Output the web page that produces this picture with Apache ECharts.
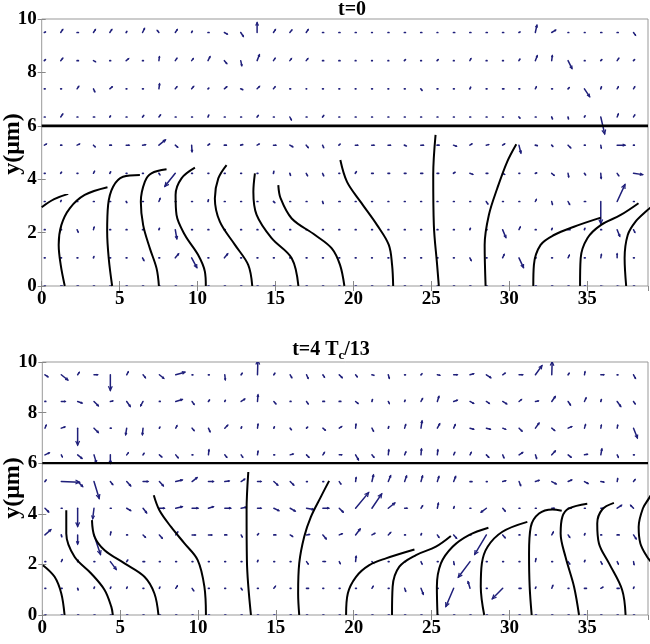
<!DOCTYPE html>
<html><head><meta charset="utf-8">
<script src="https://cdn.jsdelivr.net/npm/echarts@6/dist/echarts.min.js"></script>
<style>html,body{margin:0;padding:0;background:#fff}#c{width:650px;height:644px}</style>
</head><body><div id="c"></div>
<script>
// ---------- axis / tick data ----------
const xMax = 38.9;
const yMax = 10;
const titleTop = 't=0';
const titleBottom = ['t=4 T', 'c', '/13'];
const yName = 'y(\u03bcm)';

// quiver sampling grid (µm)
const quiverCols = [0.17,1.22,2.27,3.32,4.37,5.42,6.47,7.52,8.57,9.62,10.67,11.72,12.77,13.82,14.87,15.92,16.97,18.02,19.07,20.12,21.17,22.22,23.27,24.32,25.37,26.42,27.47,28.52,29.57,30.62,31.67,32.72,33.77,34.82,35.87,36.92,37.97];
const quiverRows = [0,1.055,2.11,3.165,4.22,5.275,6.33,7.385,8.44,9.495];

// ---------- top panel (t=0) ----------
const topContours = [
 [[0,2.95],[0.8,3.25],[1.7,3.45]],
 [[1.48,0],[1.22,0.79],[1.09,1.54],[1.26,2.28],[1.8,2.91],[2.76,3.41],[4.22,3.7]],
 [[4.52,0],[4.3,1.04],[4.2,2.03],[4.26,3.03],[4.58,3.72],[5.22,4.09],[6.3,4.16]],
 [[7.52,0],[7.37,0.66],[6.94,1.41],[6.51,2.28],[6.36,3.16],[6.62,3.91],[7.04,4.22],[8.01,4.37]],
 [[10.53,0],[10.47,0.54],[10.04,1.16],[9.19,1.91],[8.65,2.66],[8.59,3.41],[8.97,4.03],[9.83,4.43]],
 [[13.51,0],[13.25,0.79],[12.4,1.54],[11.43,2.41],[11.11,3.28],[11.33,4.03],[11.86,4.53]],
 [[16.47,0],[16.04,1.04],[14.75,1.79],[13.79,2.66],[13.58,3.53],[13.68,4.22]],
 [[19.42,0],[19.14,0.79],[18.61,1.41],[17.54,1.91],[16.04,2.53],[15.33,3.28],[15.18,3.78]],
 [[22.55,0],[22.48,0.79],[22.27,1.54],[21.52,2.28],[20.45,3.16],[19.59,3.9],[19.16,4.72]],
 [[25.48,0],[25.37,0.79],[25.16,2.28],[25.12,4.16],[25.27,5.66]],
 [[28.48,0],[28.42,1.54],[28.69,2.66],[29.23,3.66],[29.87,4.66],[30.45,5.31]],
 [[31.54,0],[31.58,0.79],[32.01,1.54],[32.87,1.91],[34.15,2.22],[35.87,2.56]],
 [[34.54,0],[34.58,1.04],[35.01,1.79],[35.87,2.28],[37.15,2.66],[38.29,3.1]],
 [[37.5,0],[37.4,1.04],[37.6,1.91],[38.1,2.41],[38.8,2.81],[39.2,3.0]]
];
const topInterface = [[0,6],[xMax,6]];

const topRow0 = [[0.8,0],[1.2,0],[1,0],[0.8,0],[0.8,0],[0.8,0],[0.8,0],[0.8,0],[0.8,0],[0.8,0],[0.8,0],[0.8,0],[0.8,0],[0.8,0],[0.8,0],[0.8,0],[0.8,0],[0.8,0],[0.8,0],[0.8,0],[0.8,0],[0.8,0],[0.8,0],[0.8,0],[0.8,0],[0.8,0],[0.8,0],[0.8,0],[0.8,0],[0.8,0],[0.8,0],[0.8,0],[0.8,0],[0.8,0],[2,-0.6],[2,-0.6],[0.8,0]];
const topRow1 = [[0.6,0],[0.6,0],[0.6,0],[0.4,1],[0.6,0],[0.6,0],[1,-2],[0.6,0],[2.5,3],[4,-7.5],[0.6,0],[2.5,3],[0.6,0],[0.6,0],[0.6,0],[0.6,0],[0.6,0],[0.6,0],[0.6,0],[0.6,0],[0.5,0],[0.6,0],[0.6,0],[0.6,0],[0.6,0],[0.6,0],[1,-2],[0.6,0],[1.2,2.5],[3.5,-7.5],[0.6,0],[0.6,0],[1,2],[0.6,0],[0.5,2.5],[0,3],[0.6,0]];
const topRow2 = [[0.6,0],[0.6,0],[0.8,-1.8],[0.5,1.8],[0.6,0],[0.6,0],[0.6,0],[0.4,1],[1.2,-7],[0.6,0],[0.6,0],[0.6,0],[0.6,0],[0.6,0],[0.6,0],[0.6,0],[0.6,0],[0.6,0],[0.6,0],[0.6,0],[0.6,0],[0.6,0],[0.6,0],[0.6,0],[0.6,0],[0.6,0],[0.4,1],[0.6,0],[2.5,-6],[1,2],[0.6,0],[0.4,1],[1.5,0],[0.4,1],[0.6,0],[2,-5],[1,-2]];
const topRow3 = [[0.6,0],[0.4,0.8],[0.5,0],[0.6,0],[0.6,0],[0.5,-0.8],[0.6,0],[0.9,2.2],[0.6,0],[0.6,0],[0.3,1.2],[0.6,0],[0.6,0],[0.6,0],[1,-0.9],[0.6,0],[0.6,0],[0.5,-1.5],[0.9,0],[0.6,0],[0.6,0],[0.6,0],[0.6,0],[0.6,0],[0.6,0],[0.6,0],[0.6,0],[1.2,-1.8],[0.6,0],[0.6,0],[0.8,1.5],[0.6,-2.2],[1.2,-2.2],[0.9,0],[0,-17],[6,13],[0.6,0]];
const topRow4 = [[0.6,0],[0.6,0.9],[0.6,0],[0.8,1.5],[0.6,1.2],[0.6,0],[0.6,0],[0.8,-1.2],[-8,-10],[0.6,0],[0.6,0],[0.6,0],[0.6,0],[0.6,0],[0.3,1.5],[0.5,-1.5],[1,-1.8],[0.8,-1.8],[0.6,0],[0.8,1.2],[1.2,0],[1.2,0],[1.2,0],[1.5,0],[1.2,0],[1.2,0.8],[2.2,-0.8],[1.2,0],[1.5,-0.8],[0.6,0],[1,0.3],[1.8,-1.5],[0.5,-2.7],[0.9,-1.2],[0.3,-3.8],[1.2,-1.8],[7,-1]];
const topRow5 = [[1.5,0.8],[0.8,0],[1.8,0.8],[1.2,-1.2],[1.2,0],[2.2,0],[2.2,0.4],[5,4],[1.8,-1.5],[0.3,-5],[1.2,0.9],[1.5,0],[1.5,0.4],[1.5,0.8],[1.8,0],[2.2,-1.2],[1.5,-1.8],[0.8,-1.8],[0.9,0.8],[1.8,0],[1.8,0],[1.8,0],[1.5,-0.6],[2,0],[1.5,0],[2.2,-0.8],[1.5,0.9],[1.8,0.4],[1.5,0.9],[1.5,-6],[1.5,-0.4],[0.9,-0.9],[2,-2],[0.6,0],[0.4,-2.2],[6,0],[0.6,0]];
const topRow6 = [[0.6,0],[1.5,2.2],[0.6,0],[0.9,0],[0.5,0.8],[0.6,0],[0.9,1.2],[1.2,1.5],[0.6,0],[0.6,0],[0.6,1.5],[0.6,0],[0.6,0],[0.9,1.2],[0.6,0],[1.2,-2.2],[0.6,0],[0.9,1.2],[0.6,0],[0.6,0],[0.6,0],[0.6,0],[0.6,0],[0.6,0],[0.6,0],[0.6,0],[0.6,0],[0.6,0],[0.6,0],[0.8,-0.9],[0.6,0],[0.6,-1.5],[0.3,-1.5],[0.5,0.9],[3,-13],[0.9,2.2],[0.9,1.5]];
const topRow7 = [[0.6,0],[0.6,0],[1.2,1.8],[1,-2.2],[1.8,1.5],[0.5,0],[0.6,0],[0.5,3.8],[1.2,1.5],[1.5,1.8],[0.6,0.6],[1.8,1.5],[1.5,-0.6],[1.8,1.8],[1.2,1.5],[0.6,0],[0.3,0],[0.6,0],[0.6,0],[0.5,0],[0.6,0],[0.5,0],[0.6,0],[1,-1.2],[0.6,0],[0.6,0],[0.6,1.2],[0.6,0],[1,0],[0.6,0],[0.8,1.5],[0.6,0],[0.9,0.9],[4,-6],[0.5,1.5],[0.9,1.5],[0.9,1.5]];
const topRow8 = [[0.8,0.8],[1.5,1.8],[1,0],[1.5,-0.8],[0.6,0],[1.8,1.5],[0.6,0],[0.4,3],[1.2,1.8],[1.2,1.5],[1.5,3],[1.8,-2.2],[0.8,-3.8],[1.8,4.5],[1.2,1.8],[1.2,1.5],[1.2,1.5],[0.8,0],[0.8,0],[0.5,0],[0.5,0],[0.5,0],[0.8,0.8],[0.5,0],[0.8,0.8],[0.5,0],[0.8,1.5],[0.6,0],[0.6,0],[0.8,1.2],[1.5,3.8],[0.5,3.8],[3,-6],[0.5,0],[0.8,0.8],[1.2,1.8],[0.8,0.8]];
const topRow9 = [[0.8,0.4],[1.5,2.2],[1,0],[1.5,2.2],[1.5,2.2],[0.5,0.8],[1.5,3],[-1.2,1.5],[1.5,2.2],[0.5,1],[0.8,0],[2.2,-1.2],[2,-3],[0,7.5],[1.5,2.2],[1.5,1.8],[1.5,2.2],[0.8,0],[0.8,0],[0.7,0],[0.5,0],[0.7,0],[0.8,0],[0.8,0],[0.5,0],[0.9,0],[0.8,0],[0.8,0],[0.8,0],[0.8,0.4],[1.2,5.5],[3,1.8],[0.5,0],[0.5,0],[0.8,0],[0.8,0],[1.5,-2]];

// ---------- bottom panel (t=4Tc/13) ----------
const bottomContours = [
 [[1.43,0],[1.22,0.85],[0.79,1.51],[0.04,1.97]],
 [[4.53,0],[4.43,0.33],[4.0,0.99],[3.14,1.64],[2.07,2.3],[1.54,3.22],[1.54,4.14]],
 [[7.46,0],[7.2,0.85],[6.56,1.51],[5.28,2.04],[4.0,2.56],[3.36,3.09],[3.19,3.75]],
 [[10.51,0],[10.41,1.12],[9.98,2.17],[9.13,2.83],[8.27,3.48],[7.52,4.14],[7.16,4.73]],
 [[13.4,0],[13.14,2.17],[13.12,4.14],[13.23,5.65]],
 [[16.5,0],[16.43,0.85],[16.5,2.04],[16.82,3.09],[17.25,3.88],[17.89,4.67],[18.42,5.3]],
 [[19.51,0],[19.62,0.85],[20.15,1.51],[21.0,1.97],[22.07,2.24],[23.9,2.59]],
 [[22.46,0],[22.5,1.12],[22.93,1.91],[24.0,2.37],[25.28,2.7],[26.24,3.12]],
 [[25.38,0],[25.34,1.12],[25.6,2.04],[26.35,2.7],[27.4,3.16],[28.65,3.45]],
 [[28.38,0],[28.16,1.12],[28.23,2.04],[28.6,2.7],[29.55,3.29],[31.15,3.68]],
 [[31.43,0],[31.3,1.12],[31.26,2.43],[31.37,3.48],[31.9,4.01],[32.76,4.17],[33.36,4.12]],
 [[34.47,0],[34.15,1.12],[33.6,2.3],[33.29,3.22],[33.4,3.88],[33.83,4.21],[35.0,4.4]],
 [[37.46,0],[37.24,0.99],[36.4,2.04],[35.75,2.83],[35.64,3.62],[35.96,4.17],[36.71,4.43]],
 [[39.2,4.85],[38.95,4.6],[38.57,4.21],[38.3,3.48],[38.41,2.83],[38.84,2.3],[39.1,2.1]]
];
const bottomInterface = [[0,6],[xMax,6]];

const bottomRow0 = [[0.8,0],[0.8,0],[0.8,0],[0.8,0],[0.8,0],[0.8,0],[0.8,0],[0.8,0],[0.8,0],[0.8,0],[0.8,0],[0.8,0],[0.8,0],[0.8,0],[0.8,0],[0.8,0],[0.8,0],[0.8,0],[0.8,0],[0.8,0],[0.8,0],[0.8,0],[0.8,0],[0.8,0],[0.8,0],[0.8,0],[0.8,0],[0.8,0],[0.8,0],[0.8,0],[0.8,0],[0.8,0],[0.8,0],[0.8,0],[0.8,0],[0.8,0],[0.8,0]];
const bottomRow1 = [[0.6,0],[0.6,0],[0.4,-1.2],[0.4,1],[0.4,1],[0.4,1],[0.6,0],[0.4,1],[1.2,1.8],[1.2,-1.8],[0.6,0],[0.6,0],[0.8,-1.2],[0.6,0],[1.2,1.5],[0.6,0],[1.5,0],[0.6,0],[0.6,0],[0.6,0],[0.9,1.5],[0.6,0],[0.8,-2.2],[1.8,-4.5],[0.6,0],[-6,-14],[-1.5,5],[0.6,0],[-8,-8],[1.5,0],[0.4,1],[0.8,2.2],[0.6,0],[1.5,0],[1.5,0.8],[1.5,0],[0.4,1]];
const bottomRow2 = [[0.6,0],[0.8,1.5],[0.4,1],[0.6,0],[4.5,-6],[0.8,1.2],[1.2,0],[0.6,0],[0.6,0],[0.6,0],[0.6,0],[0.6,0],[0.6,0],[0.4,1],[0.6,0],[0.6,0],[1.2,-1.8],[1.8,0],[0.8,-1.5],[0.4,4],[1.2,-1.2],[0.6,0],[0.6,0],[0.8,-1.8],[0.6,0],[0.4,-2.2],[-9,-12],[0.6,0],[0.6,0],[0.6,0],[0.4,2.2],[0.6,0],[1.2,-1.8],[0.4,1],[0.9,-1.8],[0.9,-1.8],[0.4,-2.2]];
const bottomRow3 = [[4.5,4],[0.4,-1.4],[0,-7],[5,-15],[0.4,2.2],[0.6,0],[1.8,-1.8],[2.2,-2.5],[1.5,2.2],[2.5,0],[2.5,0],[1.5,0],[0.8,-1.5],[0.8,0.9],[1.5,0],[1.8,-1.2],[2.2,0.4],[2.5,-3],[2.2,0.9],[3.5,4.5],[2.2,1.2],[1.8,1.8],[0.6,0],[0.4,1],[1.2,-1.8],[2.2,-2.5],[0.6,0],[-9,-15],[1.8,-2.2],[0.6,0],[0.6,0],[1.2,2.2],[1.2,-1.8],[0.4,1],[0.6,0],[1.5,0],[2,-3]];
const bottomRow4 = [[2.8,-2.8],[0.6,0],[0,-14],[-1,-8],[0.6,0],[3,-1.8],[2.7,-3.5],[3.8,0],[5,1.2],[4.5,0],[3.8,1.2],[4.5,0],[3.8,0.8],[2.7,0],[3.8,-1.8],[3.8,-2.2],[5.5,-1],[4.5,0],[3,-3],[10,12],[7.5,11],[5,4],[1.8,0],[1.2,1.8],[0.8,3.8],[0.4,1.2],[0.6,0],[-4,-3],[1.8,-2.2],[0.6,0],[0.6,0],[1.8,0],[2.2,0],[0.6,0],[1.8,0],[3.3,2.2],[-2.2,2.2]];
const bottomRow5 = [[0.9,1.2],[14,-0.5],[3.8,-3.8],[4,-13],[1.8,-2.2],[3,-3.3],[3.8,0],[3,-3.3],[5,1.2],[3.8,3],[3.8,0],[3.3,0.4],[2.7,1.8],[2.7,0],[3,-2.7],[2.7,-2.7],[0.6,0],[0.6,0],[1.2,-1.8],[0.4,3],[1.2,5],[1.8,4.5],[1.5,4.2],[1.2,4.2],[1.2,3.8],[1.5,3.8],[1.5,0],[0.6,0],[2.2,0.6],[1.2,-3],[2.7,0.9],[3.3,-1.8],[2.7,1.2],[2.7,-1.5],[2.2,-0.4],[0.4,2.2],[1.2,1.5]];
const bottomRow6 = [[3.3,1.5],[0.8,-1.5],[3.3,-2.7],[1.8,-6],[0,-6.5],[1.2,1.5],[0.8,1.2],[1.8,-1.5],[1.8,-2.2],[0.6,0],[0.4,3.8],[1.5,-1.8],[1.2,-1.8],[0.4,2.7],[0.6,0],[2.2,0.6],[1.8,-1.8],[1.2,1.8],[1.8,0],[2.2,-3.8],[1.5,-1.8],[0.4,3.8],[0.9,2.2],[0.4,4.5],[0.4,3.8],[0.8,1.8],[0.9,1.8],[1.8,-1.8],[0.9,-2.2],[2.7,1.8],[0.9,-2.7],[2.7,3],[2.2,-1.8],[2.2,0.4],[0.8,4.5],[0.9,-1.8],[0.6,0]];
const bottomRow7 = [[0.9,2.2],[2.7,0.9],[0,-13],[3.3,-3.3],[0.6,0],[-0.8,-5],[-0.5,-5],[0.4,0.8],[0.9,1.8],[1.5,-1.8],[1.2,-2.7],[2.2,2.2],[0.4,1],[0.4,3],[0.4,1],[0.9,-1.2],[0.8,0.8],[1.8,-1.5],[1.8,1.2],[0.3,3],[1.2,-2.2],[0.4,1.2],[0.8,2.7],[0.8,5.5],[1.8,3.3],[1.2,2.7],[2.7,-0.8],[3,-0.8],[2.2,-0.9],[2.2,-2.2],[2.7,3.8],[2.2,-1.8],[2.7,1.2],[0.8,2.7],[0.4,2.2],[0.4,2.2],[3,-7.5]];
const bottomRow8 = [[0.6,0],[3,0],[3.3,-1.2],[3.3,-3.3],[1.8,0.4],[2.7,-3.8],[-1.8,-3.3],[0.6,0],[5,1.5],[1.5,-2.2],[0.8,1.2],[0.4,0.9],[2.7,1.8],[0.4,5],[1.5,-1.8],[0.6,0],[1.2,-1.8],[1.2,0],[1.2,0],[1.8,-1.5],[0.4,1.5],[0.8,-1.5],[0.4,1],[1.2,2.2],[1.2,3.8],[2.7,0.9],[2.7,-1.5],[2.2,-1.5],[3,-1.8],[1.8,1.5],[2.2,0.4],[2.7,3.8],[1.8,-2.7],[1.2,2.7],[0.4,1.5],[2.7,-3.8],[1.2,-1.8]];
const bottomRow9 = [[2.2,-1.5],[5,-4],[1.2,1.8],[2.7,0],[0,-12],[1.2,2.2],[1.8,-2.2],[3.3,-2.7],[7,2],[0.6,0],[0.6,0],[0.4,-3.8],[0.8,1.2],[0.3,11],[0.8,1.2],[1.2,-2.2],[1.2,-2.7],[1.2,-1.8],[2.2,-2.2],[1.2,-1.5],[1.5,-0.4],[0.8,-2.7],[0.6,0],[0.8,0.8],[1.8,-0.4],[2.7,0],[2.7,0.8],[3.3,-2.2],[1.8,1.2],[2.7,0],[5,7],[0.3,10],[0.8,1.2],[0.4,2.2],[2.2,0],[0.6,0],[1.5,-2.7]];

const topRows = [topRow0,topRow1,topRow2,topRow3,topRow4,topRow5,topRow6,topRow7,topRow8,topRow9];
const bottomRows = [bottomRow0,bottomRow1,bottomRow2,bottomRow3,bottomRow4,bottomRow5,bottomRow6,bottomRow7,bottomRow8,bottomRow9];

// ---------- rendering ----------
const FONT = '"Liberation Serif","Times New Roman",serif';
const ARROW_COLOR = '#1f1f7a';
const ARROW_SCALE = 1.3;

function quiverData(rows) {
  const out = [];
  rows.forEach((row, k) => row.forEach((uv, j) => out.push([quiverCols[j], quiverRows[k], uv[0], uv[1]])));
  return out;
}

function quiverItem(params, api) {
  const p = api.coord([api.value(0), api.value(1)]);
  const dx = api.value(2) * ARROW_SCALE, dy = -api.value(3) * ARROW_SCALE;
  const len = Math.hypot(dx, dy);
  const st = {stroke: ARROW_COLOR, lineWidth: 1.5, lineCap: 'round', fill: null};
  if (len < 2.2) {
    return {type: 'line', shape: {x1: p[0], y1: p[1], x2: p[0] + dx, y2: p[1] + dy}, style: {stroke: ARROW_COLOR, lineWidth: 1.7, lineCap: 'round'}};
  }
  const tx = p[0] + dx, ty = p[1] + dy;
  const ang = Math.atan2(dy, dx);
  const h = Math.min(0.33 * len, 4.5);
  const a1 = ang + Math.PI - 0.45, a2 = ang + Math.PI + 0.45;
  return {type: 'group', children: [
    {type: 'line', shape: {x1: p[0], y1: p[1], x2: tx, y2: ty}, style: st},
    {type: 'polyline', shape: {points: [[tx + h * Math.cos(a1), ty + h * Math.sin(a1)], [tx, ty], [tx + h * Math.cos(a2), ty + h * Math.sin(a2)]]}, style: {stroke: ARROW_COLOR, lineWidth: 1.2, fill: null}}
  ]};
}

function xAxes(grid, withLabels, pos) {
  return {
    gridIndex: grid, type: 'value', min: 0, max: xMax, interval: 5, position: pos,
    axisLine: {show: false},
    axisTick: {show: true, inside: true, length: 5, lineStyle: {color: '#888'}},
    axisLabel: {show: withLabels, margin: 4, color: '#000', fontFamily: FONT, fontWeight: 'bold', fontSize: 19, showMaxLabel: false},
    splitLine: {show: false}
  };
}
function yAxes(grid, withLabels, pos) {
  return {
    gridIndex: grid, type: 'value', min: 0, max: yMax, interval: 2, position: pos,
    axisLine: {show: false},
    axisTick: {show: true, inside: true, length: 4, lineStyle: {color: '#888'}},
    axisLabel: {show: withLabels, margin: 5, color: '#000', fontFamily: FONT, fontWeight: 'bold', fontSize: 19},
    splitLine: {show: false}
  };
}

const series = [];
function addPanel(xi, yi, rows, contours, iface, ifaceWidth) {
  series.push({type: 'custom', xAxisIndex: xi, yAxisIndex: yi, renderItem: quiverItem, data: quiverData(rows), clip: true, silent: true, z: 2});
  contours.forEach(c => series.push({type: 'line', xAxisIndex: xi, yAxisIndex: yi, data: c, smooth: 0.35, showSymbol: false, symbol: 'none', clip: true,
    lineStyle: {color: '#000', width: 2}, silent: true, z: 3}));
  series.push({type: 'line', xAxisIndex: xi, yAxisIndex: yi, data: iface, showSymbol: false, symbol: 'none',
    lineStyle: {color: '#000', width: ifaceWidth}, silent: true, z: 4});
}
addPanel(0, 0, topRows, topContours, topInterface, 2.8);
addPanel(2, 2, bottomRows, bottomContours, bottomInterface, 2.2);

const chart = echarts.init(document.getElementById('c'), null, {renderer: 'canvas'});
chart.setOption({
  animation: false,
  backgroundColor: '#fff',
  grid: [
    {left: 41.7, top: 19, width: 606.3, height: 267, show: true, borderColor: '#999', borderWidth: 1, backgroundColor: 'transparent', containLabel: false, outerBoundsMode: 'none'},
    {left: 42.3, top: 362, width: 605.7, height: 253, show: true, borderColor: '#999', borderWidth: 1, backgroundColor: 'transparent', containLabel: false, outerBoundsMode: 'none'}
  ],
  xAxis: [xAxes(0, true, 'bottom'), xAxes(0, false, 'top'), xAxes(1, true, 'bottom'), xAxes(1, false, 'top')],
  yAxis: [yAxes(0, true, 'left'), yAxes(0, false, 'right'), yAxes(1, true, 'left'), yAxes(1, false, 'right')],
  graphic: [
    {type: 'text', x: 352, y: 10, style: {text: titleTop, font: 'bold 20px ' + FONT, fill: '#000', align: 'center', verticalAlign: 'middle'}},
    {type: 'text', x: 331, y: 350, style: {
      text: '{n|' + titleBottom[0] + '}{s|' + titleBottom[1] + '}{n|' + titleBottom[2] + '}',
      align: 'center', verticalAlign: 'middle',
      rich: {
        n: {fontFamily: FONT, fontWeight: 'bold', fontSize: 20, fill: '#000', verticalAlign: 'bottom', lineHeight: 20},
        s: {fontFamily: FONT, fontWeight: 'bold', fontSize: 13, fill: '#000', verticalAlign: 'bottom', lineHeight: 14, padding: [0, 0, -2, 0]}
      }
    }},
    {type: 'text', x: 13, y: 144, rotation: Math.PI / 2, style: {text: yName, font: 'bold 24px ' + FONT, fill: '#000', align: 'center', verticalAlign: 'middle'}},
    {type: 'text', x: 13, y: 488, rotation: Math.PI / 2, style: {text: yName, font: 'bold 24px ' + FONT, fill: '#000', align: 'center', verticalAlign: 'middle'}}
  ],
  series: series
});
</script>
</body></html>
